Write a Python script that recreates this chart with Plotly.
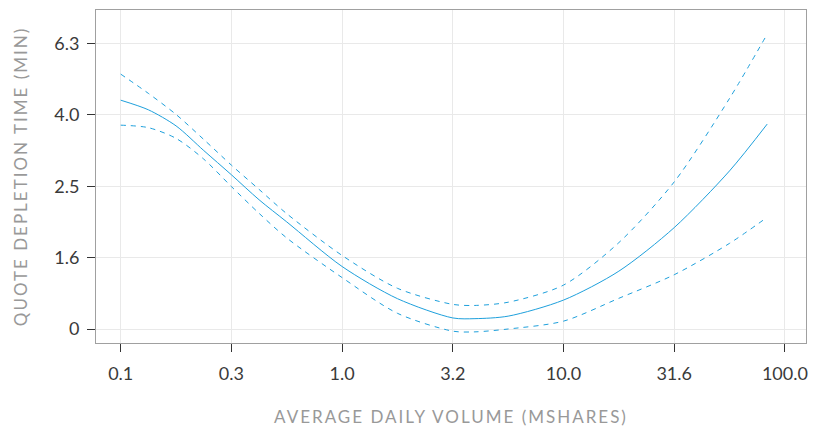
import plotly.graph_objects as go

# x values in log10(ADV, Mshares); y values in log10(minutes)
log_adv = [-1.0, -0.875, -0.75, -0.625, -0.5, -0.375, -0.25, 0.0, 0.25, 0.5, 0.6, 0.75, 1.0, 1.25, 1.5, 1.75, 1.92]
fit = [0.641, 0.614, 0.569, 0.500, 0.432, 0.362, 0.300, 0.175, 0.085, 0.031, 0.029, 0.036, 0.081, 0.162, 0.284, 0.443, 0.574]
upper = [0.714, 0.660, 0.601, 0.531, 0.459, 0.391, 0.323, 0.206, 0.114, 0.069, 0.066, 0.075, 0.123, 0.242, 0.412, 0.646, 0.826]
lower = [0.571, 0.564, 0.534, 0.476, 0.399, 0.324, 0.255, 0.144, 0.044, -0.006, -0.008, 0.0, 0.022, 0.086, 0.152, 0.240, 0.313]

x_tickvals = [-1.0, -0.5, 0.0, 0.5, 1.0, 1.5, 2.0]
x_ticktext = ["0.1", "0.3", "1.0", "3.2", "10.0", "31.6", "100.0"]
y_tickvals = [0.0, 0.2, 0.4, 0.6, 0.8]
y_ticktext = ["0", "1.6", "2.5", "4.0", "6.3"]

color = "#1ea0dc"
fig = go.Figure()
fig.add_trace(go.Scatter(x=log_adv, y=upper, mode="lines", hoverinfo="skip",
                         line=dict(color=color, width=1, dash="5px,5px", shape="spline", smoothing=0.8)))
fig.add_trace(go.Scatter(x=log_adv, y=lower, mode="lines", hoverinfo="skip",
                         line=dict(color=color, width=1, dash="5px,5px", shape="spline", smoothing=0.8)))
fig.add_trace(go.Scatter(x=log_adv, y=fit, mode="lines", hoverinfo="skip",
                         line=dict(color=color, width=1, shape="spline", smoothing=0.8)))

font_family = "Lato, 'Open Sans', sans-serif"
fig.update_layout(
    width=823, height=428,
    margin=dict(l=96, r=17, t=10, b=85, autoexpand=False),
    paper_bgcolor="white", plot_bgcolor="white",
    showlegend=False,
    font=dict(family=font_family, color="#333333", size=16),
)
fig.update_xaxes(
    automargin=False,
    range=[-1.1116, 2.0953], tickvals=x_tickvals, ticktext=x_ticktext,
    showgrid=True, gridcolor="#e9e9e9", gridwidth=1, zeroline=False,
    showline=True, linecolor="#a0a0a0", linewidth=1, mirror=True,
    ticks="outside", ticklen=8, tickcolor="#333333", tickwidth=1,
    ticklabelstandoff=6,
    tickfont=dict(size=18, color="#3a3a3a"),
    title=dict(text="AVERAGE DAILY VOLUME (MSHARES)", font=dict(size=17, color="#999999"), standoff=28),
)
fig.update_yaxes(
    automargin=False,
    range=[-0.0392, 0.8936], tickvals=y_tickvals, ticktext=y_ticktext,
    showgrid=True, gridcolor="#e9e9e9", gridwidth=1, zeroline=False,
    showline=True, linecolor="#a0a0a0", linewidth=1, mirror=True,
    ticks="outside", ticklen=8, tickcolor="#333333", tickwidth=1,
    ticklabelstandoff=4,
    tickfont=dict(size=18, color="#3a3a3a"),
    title=dict(text="QUOTE DEPLETION TIME (MIN)", font=dict(size=17, color="#999999"), standoff=22),
)

post = """
document.body.style.margin = '0';
document.querySelectorAll('.g-xtitle text, .g-ytitle text').forEach(function(e){
  e.style.letterSpacing = '2px';
});
"""
fig.write_html("out.html", post_script=post, config={"displayModeBar": False})
